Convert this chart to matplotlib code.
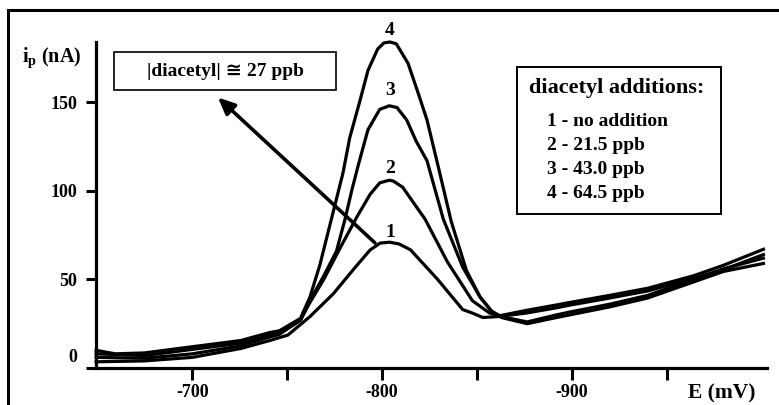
import matplotlib
matplotlib.use("Agg")
import matplotlib.pyplot as plt
from matplotlib.patches import Rectangle
from matplotlib.lines import Line2D
import matplotlib.transforms as mtransforms

plt.rcParams['font.family'] = ['Liberation Serif', 'DejaVu Serif', 'DejaVu Sans']
plt.rcParams['font.weight'] = 'bold'
plt.rcParams['mathtext.fontset'] = 'custom'
plt.rcParams['mathtext.rm'] = 'Liberation Serif:bold'
plt.rcParams['mathtext.bf'] = 'Liberation Serif:bold'
plt.rcParams['mathtext.it'] = 'Liberation Serif:bold'

# ---- data (E in mV, current in nA) ----
E1 = [-649.3, -674.7, -700, -725.5, -740.8, -750.4, -762, -774.4, -786, -793.7, -799, -804, -809,
      -815, -829.3, -842.5, -847.6, -853.2, -860.8, -876, -892, -899, -920, -940, -964, -980, -1001]
I1 = [3.5, 4, 6, 11, 15.5, 18.6, 29, 42, 57, 66.6, 70.5, 71, 70,
      66.7, 50, 33, 31, 28.5, 29, 31, 34, 35.5, 39.5, 43.5, 50.5, 55.5, 64]

E2 = [-649.3, -674.7, -700, -725.5, -740.8, -745.9, -757, -762, -769.3, -777.4, -786.6, -793.7, -798.8,
      -803.8, -806, -810.9, -818.1, -822.7, -834.4, -847.6, -856.7, -862, -876, -892, -899, -920, -940,
      -964, -980, -1001]
I2 = [6, 5.5, 8, 12.5, 17.5, 19, 27, 37, 50, 66.7, 85, 98, 104.5,
      106, 105.5, 102, 91, 84, 60, 38, 31, 29.5, 32.5, 35.6, 37, 41, 45,
      52, 58, 67]

E3 = [-649.3, -674.7, -700, -725.5, -740.8, -745.9, -757, -762, -769.3, -776, -780.5, -784, -787.6,
      -792.6, -798.8, -803.8, -807.9, -813, -818, -823.7, -832.3, -842.5, -851.7, -857.8, -862.9,
      -876.5, -892, -899, -920, -940, -964, -980, -1001]
I3 = [8, 7, 10.5, 14, 18.5, 19.5, 27, 38, 52, 66, 84, 100, 115,
      134.5, 146, 148, 147, 140, 128, 117, 84, 57, 40, 32, 28.5,
      25, 28.5, 30, 34.5, 39.5, 48.5, 54.5, 59]

E4 = [-649.3, -659.4, -674.7, -700, -725.5, -740.8, -745.9, -757, -762, -767.2, -773.3, -779.4, -783,
      -788.4, -792.6, -797.7, -801, -804.2, -807.5, -813.7, -819.1, -823.7, -830, -836.4, -844.5,
      -851.7, -857.8, -862.9, -876.5, -892, -899, -920, -940, -964, -980, -1001]
I4 = [10, 8, 8.5, 12, 15.5, 20, 21, 28, 40, 58, 84, 110, 130,
      151, 168, 180, 183.5, 184, 183, 172, 155, 140, 112, 83, 55,
      40, 32, 29, 26, 30, 31.6, 36, 41, 50, 56, 62]

curves = [(E1, I1, "1"), (E2, I2, "2"), (E3, I3, "3"), (E4, I4, "4")]
curve_label_pos = {"1": 76.5, "2": 112.6, "3": 156.6, "4": 190.4}

y_ticks = [0, 50, 100, 150]
x_ticks = [-700, -750, -800, -850, -900, -950]
x_tick_labels = ["-700", "", "-800", "", "-900", ""]

legend_title = "diacetyl additions:"
legend_items = ["1 - no addition", "2 - 21.5 ppb", "3 - 43.0 ppb", "4 - 64.5 ppb"]

W, H = 779, 405
fig = plt.figure(figsize=(W / 100, H / 100), dpi=100)
fx = lambda x: x / W
fy = lambda y: 1 - y / H

ax = fig.add_axes([fx(96), fy(368), (767 - 96) / W, (368 - 42) / H])
ax.set_xlim(-649.25, -1002.9)
ax.set_ylim(0, 184)

for E, I, lab in curves:
    ax.plot(E, I, color='black', lw=2.3, solid_joinstyle='round', clip_on=False)
for E, I, lab in curves:
    ax.text(-804.2, curve_label_pos[lab], lab, ha='center', va='center',
            fontsize=14, fontweight='bold', clip_on=False)

for s in ['top', 'right']:
    ax.spines[s].set_visible(False)
for s in ['left', 'bottom']:
    ax.spines[s].set_linewidth(2.3)

ax.set_yticks(y_ticks)
ax.set_yticklabels([str(v) for v in y_ticks])
ax.set_xticks(x_ticks)
ax.set_xticklabels(x_tick_labels)
ax.tick_params(axis='y', direction='out', length=7.5, width=2.2, pad=6, labelsize=13)
ax.tick_params(axis='x', direction='out', length=8.6, width=2.2, pad=3, labelsize=13)
for t in ax.get_yticklabels():
    t.set_fontweight('bold')
for t in ax.get_xticklabels():
    t.set_fontweight('bold')
# raise the "0" label like in the reference
lab0 = ax.get_yticklabels()[0]
lab0.set_transform(lab0.get_transform() + mtransforms.ScaledTranslation(0, 12 / 100, fig.dpi_scale_trans))

# arrow
ax.annotate("", xy=(-713.5, 152.7), xytext=(-796.3, 70.6),
            arrowprops=dict(arrowstyle='-|>,head_length=1.0,head_width=0.45', lw=2.6,
                            color='black', shrinkA=0, shrinkB=0))

# outer frame
fig.add_artist(Line2D([fx(8), fx(8)], [fy(10), fy(H + 5)], color='black', lw=2.2))
fig.add_artist(Line2D([fx(8), fx(W + 5)], [fy(10), fy(10)], color='black', lw=2.2))

# y label
fig.text(fx(22), fy(58), r'$\mathbf{i_p}$ (nA)', ha='left', va='center', fontsize=14.5, fontweight='bold')
# x label
fig.text(fx(722), fy(393), "E (mV)", ha='center', va='center', fontsize=15.5, fontweight='bold')

# concentration box
fig.add_artist(Rectangle((fx(114), fy(90)), (336 - 114) / W, (90 - 52) / H, transform=fig.transFigure,
                         fill=False, edgecolor='black', lw=1.2))
fig.text(fx(225), fy(71), "|diacetyl| \u2245 27 ppb", ha='center', va='center', fontsize=14,
         fontweight='bold', family=['Liberation Serif', 'DejaVu Sans'])

# legend box
fig.add_artist(Rectangle((fx(517), fy(214)), (721 - 517) / W, (214 - 67) / H, transform=fig.transFigure,
                         fill=False, edgecolor='black', lw=1.4))
fig.text(fx(617), fy(88), legend_title, ha='center', va='center', fontsize=16, fontweight='bold')
for k, item in enumerate(legend_items):
    fig.text(fx(547), fy(122 + 24 * k), item, ha='left', va='center', fontsize=14, fontweight='bold')

fig.savefig("out.png", dpi=100)
